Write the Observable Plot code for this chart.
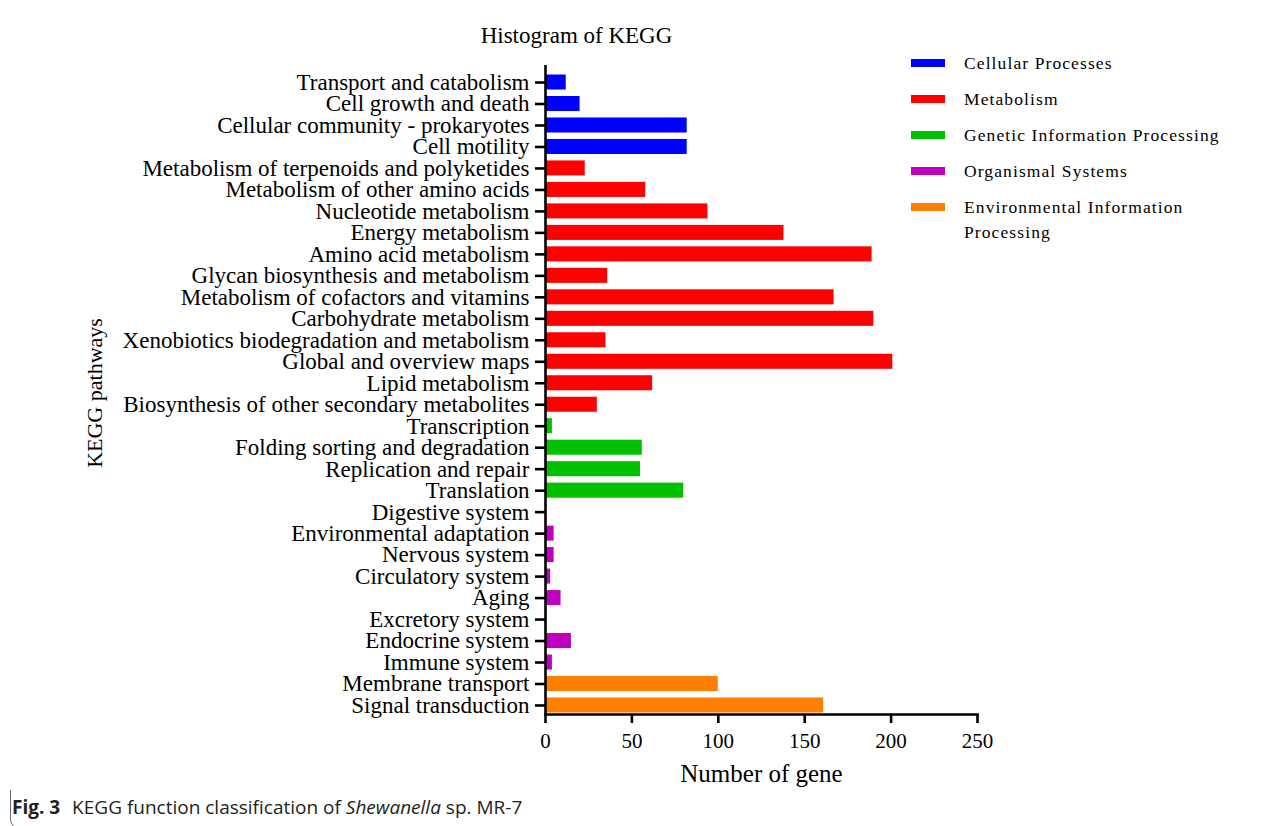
<!DOCTYPE html>
<html>
<head>
<meta charset="utf-8">
<script src="https://cdn.jsdelivr.net/npm/d3@7"></script>
<script src="https://cdn.jsdelivr.net/npm/@observablehq/plot@0.6"></script>
<style>
  html, body { margin: 0; padding: 0; background: #fff; }
  #page {
    position: relative; width: 1284px; height: 826px; overflow: hidden; background: #fff;
    font-family: "Liberation Serif", "Times New Roman", serif; color: #000;
  }
  #box {
    position: absolute; left: 10px; top: 10px; width: 1320px; height: 820px;
    border: 1.5px solid #6a6a6a; border-radius: 11px; box-sizing: border-box;
  }
  #chart { position: absolute; left: 0; top: 0; }
  #title {
    position: absolute; left: 0; width: 1153px; top: 24px; text-align: center;
    font-size: 23px; line-height: 23px;
  }
  .leg-swatch { position: absolute; left: 911px; width: 34px; height: 8px; }
  .leg-text {
    position: absolute; left: 964px; font-size: 17.5px; line-height: 25px;
    letter-spacing: 1.1px; white-space: nowrap;
  }
  #caption {
    position: absolute; left: 12px; top: 797px; font-family: "Open Sans", sans-serif;
    font-size: 19px; line-height: 20px; color: #231f20; white-space: nowrap;
  }
  #caption b { font-weight: 700; margin-right: 7px; }
</style>
</head>
<body>
<div id="page">
  <div id="box"></div>
  <div id="chart"></div>
  <div id="title">Histogram of KEGG</div>
  <div id="legend"></div>
  <div id="caption"><b>Fig. 3</b> KEGG function classification of <i>Shewanella</i> sp. MR-7</div>
</div>
<script>
// KEGG pathways, listed top to bottom
const pathways = [
  "Transport and catabolism",
  "Cell growth and death",
  "Cellular community - prokaryotes",
  "Cell motility",
  "Metabolism of terpenoids and polyketides",
  "Metabolism of other amino acids",
  "Nucleotide metabolism",
  "Energy metabolism",
  "Amino acid metabolism",
  "Glycan biosynthesis and metabolism",
  "Metabolism of cofactors and vitamins",
  "Carbohydrate metabolism",
  "Xenobiotics biodegradation and metabolism",
  "Global and overview maps",
  "Lipid metabolism",
  "Biosynthesis of other secondary metabolites",
  "Transcription",
  "Folding sorting and degradation",
  "Replication and repair",
  "Translation",
  "Digestive system",
  "Environmental adaptation",
  "Nervous system",
  "Circulatory system",
  "Aging",
  "Excretory system",
  "Endocrine system",
  "Immune system",
  "Membrane transport",
  "Signal transduction"
];

// Number of genes annotated to each pathway
const geneCounts = [
  12, 20, 82, 82,
  23, 58, 94, 138, 189, 36, 167, 190, 35, 201, 62, 30,
  4, 56, 55, 80,
  0, 5, 5, 3, 9, 0, 15, 4,
  100, 161
];

// Top-level KEGG class of each pathway
const pathwayClasses = [
  ...Array(4).fill("Cellular Processes"),
  ...Array(12).fill("Metabolism"),
  ...Array(4).fill("Genetic Information Processing"),
  ...Array(8).fill("Organismal Systems"),
  ...Array(2).fill("Environmental Information Processing")
];

const classNames = [
  "Cellular Processes",
  "Metabolism",
  "Genetic Information Processing",
  "Organismal Systems",
  "Environmental Information Processing"
];
const classColors = ["#0000ff", "#ff0000", "#00c000", "#c000c0", "#ff8000"];

const xTicks = [0, 50, 100, 150, 200, 250];

const rows = pathways.map((p, i) => ({pathway: p, count: geneCounts[i], cls: pathwayClasses[i]}));

const axisWidth = 2.6;

const chart = Plot.plot({
  width: 1284,
  height: 790,
  marginLeft: 545,
  marginRight: 307,
  marginTop: 65,
  marginBottom: 76,
  style: {fontFamily: "'Liberation Serif', 'Times New Roman', serif", color: "#000", background: "#fff", overflow: "visible"},
  x: {domain: [0, 250]},
  y: {domain: pathways, paddingInner: 0.3, paddingOuter: 0.07, insetTop: 8, round: false},
  color: {domain: classNames, range: classColors},
  marks: [
    Plot.barX(rows, {x: "count", y: "pathway", fill: "cls"}),
    Plot.ruleX([0], {stroke: "#000", strokeWidth: axisWidth}),
    Plot.frame({anchor: "bottom", stroke: "#000", strokeWidth: axisWidth}),
    Plot.axisY({tickSize: 10, tickPadding: 6, fontSize: 23, strokeWidth: axisWidth, label: null}),
    Plot.axisX({ticks: xTicks, tickSize: 9, tickPadding: 10, fontSize: 21, strokeWidth: axisWidth, label: null}),
    Plot.text(["Number of gene"], {frameAnchor: "bottom", dy: 59, fontSize: 25, lineAnchor: "middle"}),
    Plot.text(["KEGG pathways"], {frameAnchor: "left", textAnchor: "middle", rotate: -90, dx: -451, dy: 3, fontSize: 22, lineAnchor: "middle"})
  ]
});
document.getElementById("chart").appendChild(chart);

// Legend: one swatch and label per KEGG class
const legend = document.getElementById("legend");
const legendTop = 62.5, legendStep = 36;
classNames.forEach((name, i) => {
  const cy = legendTop + legendStep * i;
  const sw = document.createElement("div");
  sw.className = "leg-swatch";
  sw.style.top = (cy - 4) + "px";
  sw.style.background = classColors[i];
  legend.appendChild(sw);
  const tx = document.createElement("div");
  tx.className = "leg-text";
  tx.style.top = (cy - 11.4) + "px";
  if (name === "Environmental Information Processing") {
    tx.innerHTML = "Environmental Information<br>Processing";
  } else {
    tx.textContent = name;
  }
  legend.appendChild(tx);
});
</script>
</body>
</html>
